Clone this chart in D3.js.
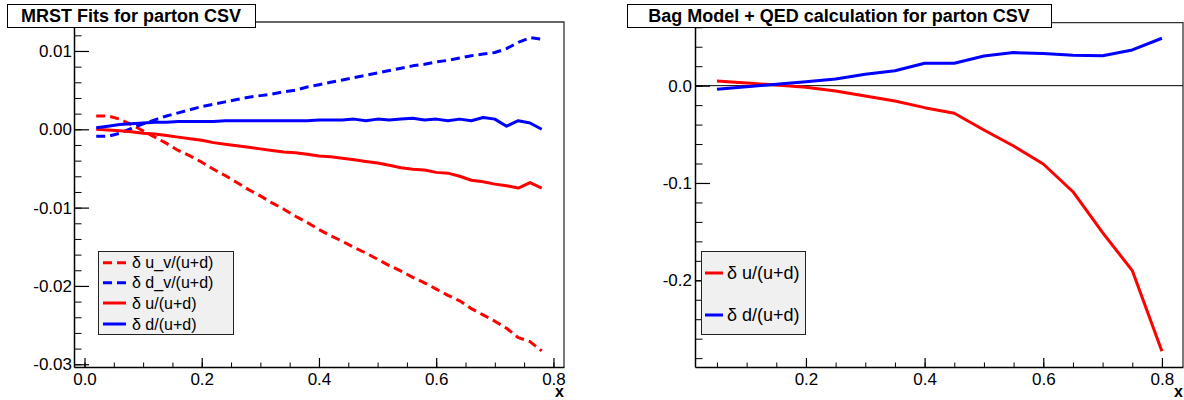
<!DOCTYPE html>
<html>
<head>
<meta charset="utf-8">
<script src="https://cdn.jsdelivr.net/npm/d3@7"></script>
<style>
  html, body { margin: 0; padding: 0; background: #fff; }
  svg { display: block; font-family: "Liberation Sans", Arial, Helvetica, sans-serif; }
</style>
</head>
<body>
<svg id="chart" width="1184" height="400"></svg>
<script>
// ---------- DATA: left panel (MRST fits) ----------
const mrstX = [0.02,0.04,0.06,0.08,0.10,0.12,0.14,0.16,0.18,0.20,0.22,0.24,0.26,0.28,0.30,0.32,0.34,0.36,0.38,0.40,
               0.42,0.44,0.46,0.48,0.50,0.52,0.54,0.56,0.58,0.60,0.62,0.64,0.66,0.68,0.70,0.72,0.74,0.76,0.78];
const mrstDuV = [0.0017,0.0017,0.0013,0.0006,-0.0002,-0.0010,-0.0018,-0.0027,-0.0034,-0.0042,-0.0051,-0.0059,-0.0068,-0.0077,-0.0085,-0.0094,-0.0102,-0.0111,-0.0119,-0.0128,
                 -0.0136,-0.0143,-0.0151,-0.0158,-0.0166,-0.0174,-0.0181,-0.0189,-0.0196,-0.0204,-0.0212,-0.0219,-0.0229,-0.0237,-0.0245,-0.0254,-0.0266,-0.0271,-0.0283];
const mrstDdV = [-0.0009,-0.0009,-0.0005,0.0001,0.0007,0.0012,0.0017,0.0021,0.0025,0.0029,0.0032,0.0035,0.0038,0.0041,0.0043,0.0045,0.0048,0.0050,0.0054,0.0057,
                 0.0060,0.0063,0.0066,0.0069,0.0072,0.0075,0.0078,0.0081,0.0083,0.0086,0.0088,0.0091,0.0094,0.0096,0.0098,0.0103,0.0111,0.0117,0.0115];
const mrstDu = [0.0000,-0.0001,-0.0002,-0.0003,-0.0005,-0.0006,-0.0008,-0.0010,-0.0012,-0.0014,-0.0017,-0.0019,-0.0021,-0.0023,-0.0025,-0.0027,-0.0029,-0.0030,-0.0032,-0.0034,
                -0.0035,-0.0037,-0.0039,-0.0041,-0.0043,-0.0046,-0.0049,-0.0051,-0.0052,-0.0055,-0.0056,-0.0060,-0.0065,-0.0067,-0.0070,-0.0072,-0.0075,-0.0068,-0.0075];
const mrstDd = [0.0002,0.0004,0.0006,0.0007,0.0008,0.0009,0.0009,0.0010,0.0010,0.0010,0.0010,0.0011,0.0011,0.0011,0.0011,0.0011,0.0011,0.0011,0.0011,0.0012,
                0.0012,0.0012,0.0013,0.0011,0.0013,0.0012,0.0013,0.0014,0.0012,0.0013,0.0011,0.0013,0.0011,0.0015,0.0013,0.0004,0.0011,0.0008,0.0000];

// ---------- DATA: right panel (Bag model + QED) ----------
const bagX  = [0.05,0.10,0.15,0.20,0.25,0.30,0.35,0.40,0.45,0.50,0.55,0.60,0.65,0.70,0.75,0.80];
const bagDu = [0.0048,0.0028,0.0007,-0.0017,-0.0054,-0.0106,-0.0157,-0.0226,-0.0284,-0.0455,-0.062,-0.0805,-0.109,-0.151,-0.190,-0.273];
const bagDd = [-0.0037,-0.0010,0.0014,0.0041,0.0069,0.0117,0.0154,0.0230,0.0230,0.0305,0.034,0.033,0.0312,0.0308,0.0367,0.0487];

// ---------- labels ----------
const leftTitle  = "MRST Fits for parton CSV";
const rightTitle = "Bag Model + QED calculation for parton CSV";
const leftLegend  = ["δ u_v/(u+d)", "δ d_v/(u+d)", "δ u/(u+d)", "δ d/(u+d)"];
const rightLegend = ["δ u/(u+d)", "δ d/(u+d)"];
const leftYTicks  = [-0.03, -0.02, -0.01, 0.00, 0.01];
const leftXTicks  = [0.0, 0.2, 0.4, 0.6, 0.8];
const rightYTicks = [-0.2, -0.1, 0.0];
const rightXTicks = [0.2, 0.4, 0.6, 0.8];
const axisTitle = "x";

const RED = "#ff0000", BLUE = "#0000ff";
const svg = d3.select("#chart");

function panel(cfg) {
  const x = d3.scaleLinear().domain(cfg.xDomain).range([cfg.left, cfg.right]);
  const y = d3.scaleLinear().domain(cfg.yDomain).range([cfg.bottom, cfg.top]);
  const g = svg.append("g");

  // frame (top + right)
  g.append("path")
    .attr("d", `M${cfg.left},${cfg.top}H${cfg.right}V${cfg.bottom}`)
    .attr("fill", "none").attr("stroke", "#333").attr("stroke-width", 1.3);

  if (cfg.zeroLine) {
    g.append("line").attr("x1", cfg.left).attr("x2", cfg.right)
      .attr("y1", y(0)).attr("y2", y(0)).attr("stroke", "#000").attr("stroke-width", 1);
  }

  // minor ticks
  g.append("g").attr("transform", `translate(${cfg.left},0)`)
    .call(d3.axisLeft(y).tickValues(cfg.yMinor).tickSize(-7.5).tickFormat(""))
    .call(a => a.select(".domain").remove());
  g.append("g").attr("transform", `translate(0,${cfg.bottom})`)
    .call(d3.axisBottom(x).tickValues(cfg.xMinor).tickSize(-4.5).tickFormat(""))
    .call(a => a.select(".domain").remove());

  // major axes
  const ya = g.append("g").attr("transform", `translate(${cfg.left},0)`)
    .call(d3.axisLeft(y).tickValues(cfg.yTicks).tickSize(-15).tickSizeOuter(0)
      .tickPadding(cfg.yPad).tickFormat(d => d.toFixed(cfg.yDigits)));
  const xa = g.append("g").attr("transform", `translate(0,${cfg.bottom})`)
    .call(d3.axisBottom(x).tickValues(cfg.xTicks).tickSize(-9).tickSizeOuter(0)
      .tickPadding(6).tickFormat(d => d.toFixed(1)));
  [ya, xa].forEach(a => {
    a.attr("font-family", null).attr("font-size", null);
    a.selectAll("text").style("font-size", "17px").attr("fill", "#000");
    a.selectAll("line").attr("stroke", "#000").attr("stroke-width", 1.2);
    a.select(".domain").attr("stroke", "#000").attr("stroke-width", 1.5);
  });

  // axis title
  g.append("text").attr("x", cfg.right).attr("y", 397).attr("text-anchor", "end")
    .style("font-size", "16px").style("font-weight", "bold").text(axisTitle);

  // series
  const line = d3.line().x(d => x(d[0])).y(d => y(d[1]));
  cfg.series.forEach(s => {
    g.append("path").datum(d3.zip(s.xs, s.ys)).attr("d", line)
      .attr("fill", "none").attr("stroke", s.color).attr("stroke-width", 3)
      .attr("stroke-linejoin", "round")
      .attr("stroke-dasharray", s.dash ? "9,5" : null);
  });

  // title box
  const tb = cfg.titleBox;
  g.append("rect").attr("x", tb[0] + 0.5).attr("y", tb[1] + 0.5)
    .attr("width", tb[2] - tb[0]).attr("height", tb[3] - tb[1])
    .attr("fill", "#fff").attr("stroke", "#000").attr("stroke-width", 1);
  g.append("text").attr("x", (tb[0] + tb[2]) / 2).attr("y", tb[3] - 5.5)
    .attr("text-anchor", "middle").style("font-size", "18px").style("font-weight", "bold")
    .text(cfg.title);

  // legend
  const lb = cfg.legendBox;
  g.append("rect").attr("x", lb[0] + 0.5).attr("y", lb[1] + 0.5)
    .attr("width", lb[2] - lb[0]).attr("height", lb[3] - lb[1])
    .attr("fill", "#f0f0f0").attr("stroke", "#222").attr("stroke-width", 1);
  cfg.series.forEach((s, i) => {
    const ly = cfg.legendY[i];
    g.append("line").attr("x1", cfg.legendLine[0]).attr("x2", cfg.legendLine[1])
      .attr("y1", ly).attr("y2", ly).attr("stroke", s.color).attr("stroke-width", 3)
      .attr("stroke-dasharray", s.dash ? "9,5" : null);
    g.append("text").attr("x", cfg.legendText).attr("y", ly).attr("dy", "0.35em")
      .style("font-size", cfg.legendFont + "px").text(s.label);
  });
}

panel({
  left: 74, top: 22, right: 564, bottom: 367,
  xDomain: [-0.0179, 0.818], yDomain: [-0.03035, 0.0137],
  yTicks: leftYTicks, yMinor: d3.range(-0.03, 0.0125, 0.002), yDigits: 2, yPad: 2,
  xTicks: leftXTicks, xMinor: d3.range(0, 0.801, 0.05),
  title: leftTitle, titleBox: [7, 4, 255, 27],
  legendBox: [98, 251, 233, 334], legendY: [262.7, 282.7, 303, 324],
  legendLine: [103, 126], legendText: 132, legendFont: 16,
  series: [
    { xs: mrstX, ys: mrstDuV, color: RED,  dash: true,  label: leftLegend[0] },
    { xs: mrstX, ys: mrstDdV, color: BLUE, dash: true,  label: leftLegend[1] },
    { xs: mrstX, ys: mrstDu,  color: RED,  dash: false, label: leftLegend[2] },
    { xs: mrstX, ys: mrstDd,  color: BLUE, dash: false, label: leftLegend[3] }
  ]
});

panel({
  left: 695, top: 22.7, right: 1183, bottom: 367, zeroLine: true,
  xDomain: [0.013, 0.8355], yDomain: [-0.2891, 0.0647],
  yTicks: rightYTicks, yMinor: d3.range(-0.28, 0.061, 0.02), yDigits: 1, yPad: 3,
  xTicks: rightXTicks, xMinor: d3.range(0.05, 0.801, 0.05),
  title: rightTitle, titleBox: [627, 4, 1051, 27],
  legendBox: [701, 251, 805, 334], legendY: [273, 315],
  legendLine: [705, 723], legendText: 727, legendFont: 18,
  series: [
    { xs: bagX, ys: bagDu, color: RED,  dash: false, label: rightLegend[0] },
    { xs: bagX, ys: bagDd, color: BLUE, dash: false, label: rightLegend[1] }
  ]
});
</script>
</body>
</html>
